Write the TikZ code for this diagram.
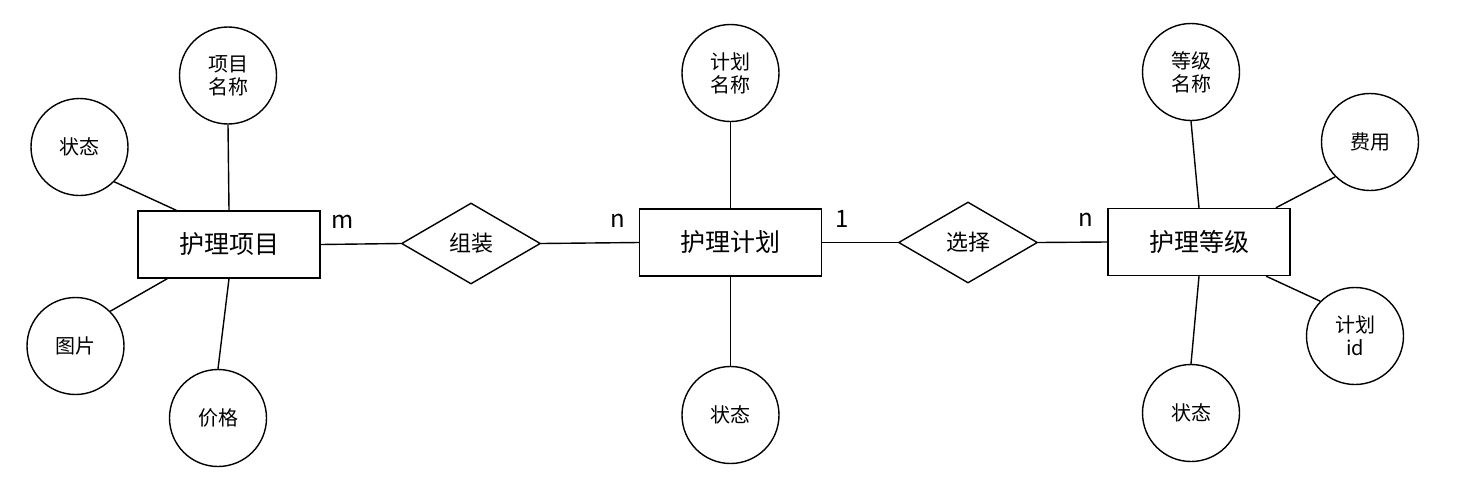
\documentclass[tikz,border=0pt]{standalone}
\usepackage{fontspec}
\setmainfont{Noto Sans CJK SC}
\usetikzlibrary{shapes.geometric}

\begin{document}
\begin{tikzpicture}
  [
    x = 1pt, y = -1pt, line width = 1.4pt,
    every node/.style = {draw, circle, fill = white, minimum size = 97pt,
      inner sep = 0pt, align = center, font = \fontsize{20}{23}\selectfont},
    entity/.style = {rectangle, minimum width = 182pt, minimum height = 67pt,
      font = \fontsize{25}{28}\selectfont},
    rel/.style = {diamond, minimum width = 139pt, minimum height = 81pt,
      font = \fontsize{22}{25}\selectfont}
  ]
  \useasboundingbox (0,0) rectangle (1467,488);

  % entities and relationships
  \node [entity] (Item)  at (229,244.5)  {护理项目};
  \node [rel]    (R1)    at (471,243.5)  {组装};
  \node [entity] (Plan)  at (730.5,242.5) {护理计划};
  \node [rel]    (R2)    at (968,242.5)  {选择};
  \node [entity] (Grade) at (1199,242)   {护理等级};

  % attributes
  \node (A1) at (228,75.5)  {项目\\名称};
  \node (A2) at (79.5,147)  {状态};
  \node (A3) at (75.5,346)  {图片};
  \node (A4) at (218,418)   {价格};
  \node (B1) at (730.5,73)  {计划\\名称};
  \node (B2) at (730.5,415) {状态};
  \node (C1) at (1191,72)   {等级\\名称};
  \node (C2) at (1370,142)  {费用};
  \node (C3) at (1355,336)  {计划\\id};
  \node (C4) at (1191,413)  {状态};

  \draw (A1.south) -- (Item.north);
  \draw (A2.-45)   -- (Item.147);
  \draw (A3.45)    -- (Item.-151);
  \draw (A4.north) -- (Item.south);
  \draw (B1.south) -- (Plan.north);
  \draw (B2.north) -- (Plan.south);
  \draw (C1.south) -- (Grade.north);
  \draw (C2.225)   -- (Grade.24);
  \draw (C3.135)   -- (Grade.-27);
  \draw (C4.north) -- (Grade.south);

  \draw (Item.east) -- (R1.west);
  \draw (R1.east)   -- (Plan.west);
  \draw (Plan.east) -- (R2.west);
  \draw (R2.east)   -- (Grade.west);

  \begin{scope}[nodes = {draw = none, fill = none, rectangle, minimum size = 0pt,
      font = \fontsize{24}{28}\selectfont}]
    \path (Item.east) -- (R1.west)   node [pos = 0.27, above = 15pt] {m};
    \path (R1.east)   -- (Plan.west) node [pos = 0.78, above = 15pt] {n};
    \path (Plan.east) -- (R2.west)   node [pos = 0.26, above = 14pt] {1};
    \path (R2.east)   -- (Grade.west) node [pos = 0.69, above = 15pt] {n};
  \end{scope}
\end{tikzpicture}
\end{document}
